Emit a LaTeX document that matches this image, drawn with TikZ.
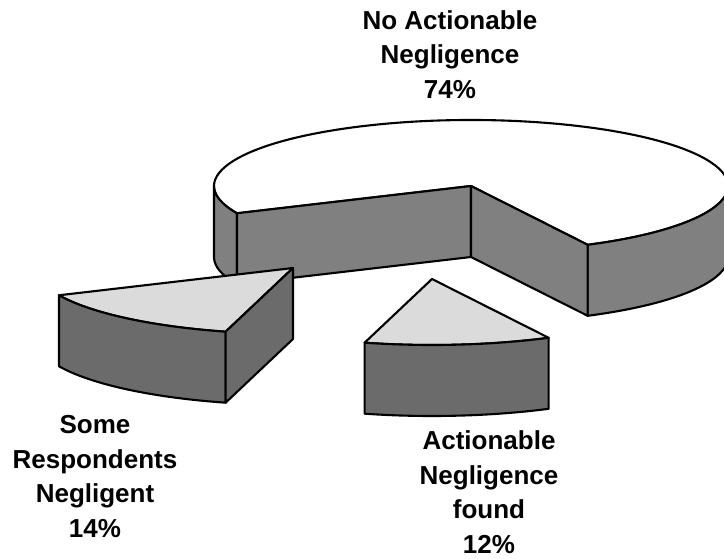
\documentclass[tikz,border=0pt]{standalone}
\usepackage{fontspec}
\setmainfont{Liberation Sans}
\begin{document}
\begin{tikzpicture}[x=1pt,y=1pt,line width=2.1pt,line join=round,
  ell/.style={x radius=257,y radius=66},
  maintop/.style={draw=black,fill=white},
  mainside/.style={draw=black,fill=black!50},
  slicetop/.style={draw=black,fill=black!14},
  sliceside/.style={draw=black,fill=black!58},
  lbl/.style={font=\fontsize{26}{34.5}\selectfont\bfseries,align=center,anchor=base,inner sep=0pt}]
\useasboundingbox (0,0) rectangle (724,-559);
% main pie
\coordinate (C) at (471,-186);
\coordinate (Cb) at (471,-257);
\draw[maintop] (C) -- ++(297:257 and 66) arc[start angle=297,end angle=564.4,ell] -- cycle;
\draw[mainside] (C) ++(297:257 and 66) arc[start angle=297,end angle=360,ell] -- ++(0,-71) arc[start angle=360,end angle=297,ell] -- cycle;
\draw[mainside] (C) ++(180:257 and 66) arc[start angle=180,end angle=204.4,ell] -- ++(0,-71) arc[start angle=204.4,end angle=180,ell] -- cycle;
\draw[mainside] (C) -- ++(204.4:257 and 66) -- ++(0,-71) -- (Cb) -- cycle;
\draw[mainside] (C) -- ++(297:257 and 66) -- ++(0,-71) -- (Cb) -- cycle;
% left slice
\coordinate (P) at (293,-268);
\coordinate (Pb) at (293,-339);
\draw[slicetop] (P) -- ++(204.4:257 and 66) arc[start angle=204.4,end angle=254.8,ell] -- cycle;
\draw[sliceside] (P) ++(204.4:257 and 66) arc[start angle=204.4,end angle=254.8,ell] -- ++(0,-71) arc[start angle=254.8,end angle=204.4,ell] -- cycle;
\draw[sliceside] (P) -- ++(254.8:257 and 66) -- ++(0,-71) -- (Pb) -- cycle;
% right slice
\coordinate (Q) at (432,-279);
\draw[slicetop] (Q) -- ++(254.8:257 and 66) arc[start angle=254.8,end angle=297,ell] -- cycle;
\draw[sliceside] (Q) ++(254.8:257 and 66) arc[start angle=254.8,end angle=297,ell] -- ++(0,-71) arc[start angle=297,end angle=254.8,ell] -- cycle;
% labels
\node[lbl] (top) at (450,-98.3) {No Actionable\\Negligence\\74\%};
\node[lbl] (left) at (95,-537) {Some\\Respondents\\Negligent\\14\%};
\node[lbl] (right) at (489,-553) {Actionable\\Negligence\\found\\12\%};
\end{tikzpicture}
\end{document}
